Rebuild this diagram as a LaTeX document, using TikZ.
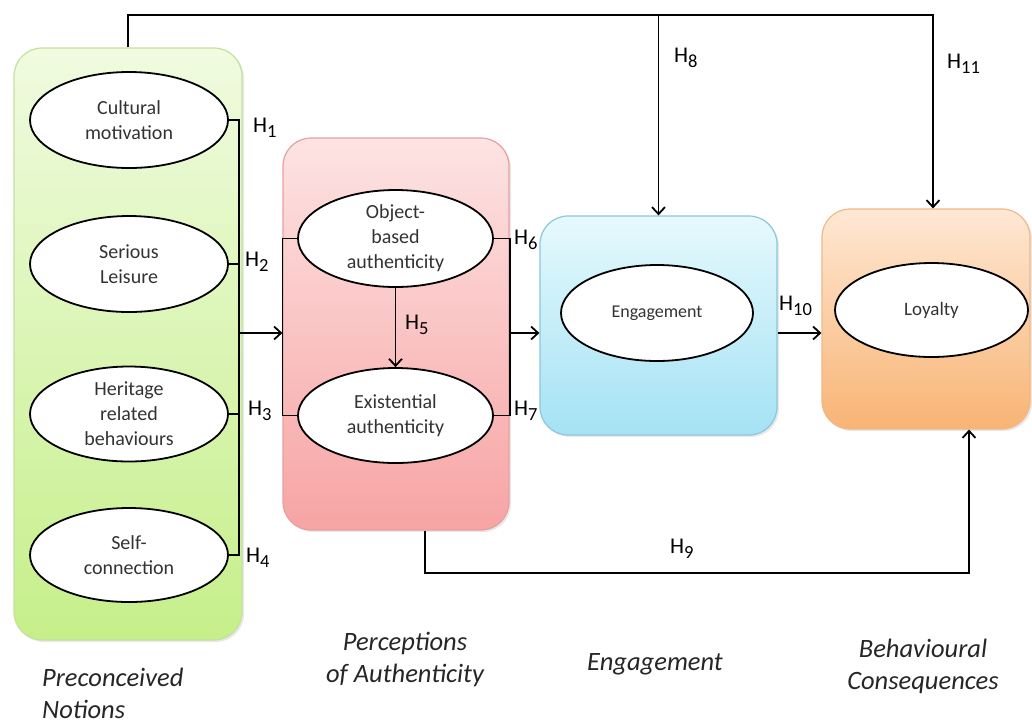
\documentclass[tikz,border=0pt]{standalone}
\usepackage{fontspec}
\setmainfont{Carlito}
\usetikzlibrary{shapes.geometric,arrows.meta,shadows}
\definecolor{gTop}{HTML}{F0FBE0}
\definecolor{gBot}{HTML}{C6EF8A}
\definecolor{gLine}{HTML}{C4E0A0}
\definecolor{pTop}{HTML}{FDE3E3}
\definecolor{pBot}{HTML}{F7A4A4}
\definecolor{pLine}{HTML}{E6A0A0}
\definecolor{bTop}{HTML}{E6F9FD}
\definecolor{bBot}{HTML}{A4E2F4}
\definecolor{bLine}{HTML}{8CC6DA}
\definecolor{oTop}{HTML}{FEE8D4}
\definecolor{oBot}{HTML}{F8B474}
\definecolor{oLine}{HTML}{F0B888}
\newcommand{\hyp}[1]{H\raisebox{-5pt}{\fontsize{18.5}{18}\selectfont #1}}
\begin{document}
\begin{tikzpicture}[x=1pt,y=-1pt,
  box/.style={rounded corners=28pt, line width=1.2pt, inner sep=0pt,
    drop shadow={opacity=0.18, shadow xshift=2pt, shadow yshift=-2pt}},
  ell/.style={ellipse, draw=black, line width=1.8pt, fill=white, inner sep=0pt,
    align=center, text=black!80, font=\fontsize{20}{25}\selectfont},
  conn/.style={line width=1.8pt},
  arr/.style={conn, -{Straight Barb[length=7pt,width=13pt,line width=1.8pt]}},
  hlab/.style={font=\fontsize{22.5}{26}\selectfont, inner sep=0pt, anchor=west},
  cat/.style={font=\fontsize{26.5}{32}\selectfont\itshape, align=center, inner sep=0pt, text=black!85}
]
\useasboundingbox (0,0) rectangle (1032,724);

% boxes
\node[box, draw=gLine, top color=gTop, bottom color=gBot, minimum width=228pt, minimum height=592pt] (green) at (128,344) {};
\node[box, draw=pLine, top color=pTop, bottom color=pBot, minimum width=226pt, minimum height=392pt] (pink) at (396,334) {};
\node[box, draw=bLine, top color=bTop, bottom color=bBot, minimum width=237pt, minimum height=219pt] (blue) at (658.5,325.5) {};
\node[box, draw=oLine, top color=oTop, bottom color=oBot, minimum width=208pt, minimum height=220pt] (orange) at (926,319) {};

% ellipses
\node[ell, minimum width=198pt, minimum height=96pt] (cm) at (129,120) {Cultural\\motivation};
\node[ell, minimum width=198pt, minimum height=96pt] (sl) at (129,264) {Serious\\Leisure};
\node[ell, minimum width=198pt, minimum height=95pt] (hr) at (129,414) {Heritage\\related\\behaviours};
\node[ell, minimum width=198pt, minimum height=94pt] (sc) at (129,555) {Self-\\connection};
\node[ell, minimum width=195pt, minimum height=97pt] (ob) at (395.5,238.5) {Object-\\based\\authenticity};
\node[ell, minimum width=195pt, minimum height=95pt] (ex) at (395.5,415.5) {Existential\\authenticity};
\node[ell, minimum width=192pt, minimum height=96pt, font=\fontsize{18}{22}\selectfont] (en) at (657,313) {Engagement};
\node[ell, minimum width=193pt, minimum height=94pt, font=\fontsize{19}{22}\selectfont] (ly) at (931.5,310) {Loyalty};

% coordinates
\coordinate (b1) at (239,333);
\coordinate (top) at (933,15);
\coordinate (h9a) at (425,573);
\coordinate (h9b) at (969,573);

% left bus
\draw[conn] (cm.east) -- (cm.east -| b1) -- (sc.east -| b1) -- (sc.east);
\draw[conn] (sl.east) -- (sl.east -| b1);
\draw[conn] (hr.east) -- (hr.east -| b1);
\draw[arr] (b1) -- (b1 -| pink.west);

% pink buses
\draw[conn] (ob.west) -- (ob.west -| pink.west) -- (ex.west -| pink.west) -- (ex.west);
\draw[conn] (ob.east) -- (ob.east -| pink.east) -- (ex.east -| pink.east) -- (ex.east);
\draw[arr] (ob.south) -- (ex.north);
\draw[arr] (b1 -| pink.east) -- (b1 -| blue.west);

% engagement to loyalty
\draw[arr] (b1 -| blue.east) -- (b1 -| orange.west);

% top line
\draw[arr] (green.north) -- (green.north |- top) -- (top) -- (top |- orange.north);
\draw[arr] (blue.north |- top) -- (blue.north);

% bottom H9
\draw[arr] (h9a |- pink.south) -- (h9a) -- (h9b) -- (h9b |- orange.south);

% H labels
\node[hlab] (H1) at (253,128) {\hyp{1}};
\node[hlab] (H2) at (245,262) {\hyp{2}};
\node[hlab] (H3) at (248,411) {\hyp{3}};
\node[hlab] (H4) at (246,558) {\hyp{4}};
\node[hlab] (H5) at (405,325) {\hyp{5}};
\node[hlab] (H6) at (514,240) {\hyp{6}};
\node[hlab] (H7) at (514,411) {\hyp{7}};
\node[hlab] (H8) at (674,58) {\hyp{8}};
\node[hlab] (H9) at (670,549) {\hyp{9}};
\node[hlab] (H10) at (779,306) {\hyp{10}};
\node[hlab] (H11) at (947,64) {\hyp{11}};

% category labels
\node[cat, align=left, anchor=west] (c1) at (42,693) {Preconceived\\Notions};
\node[cat] (c2) at (405,659) {Perceptions\\of Authenticity};
\node[cat] (c3) at (655,664) {Engagement};
\node[cat] (c4) at (923,666) {Behavioural\\Consequences};
\end{tikzpicture}
\end{document}
